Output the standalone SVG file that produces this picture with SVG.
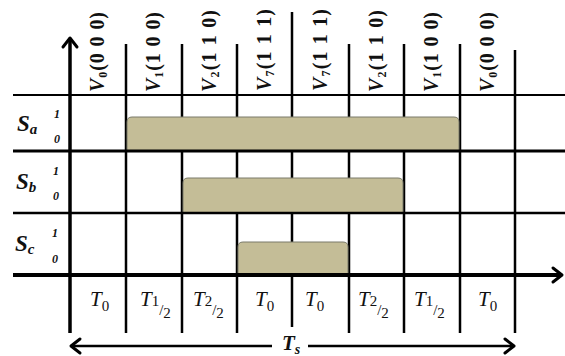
<svg xmlns="http://www.w3.org/2000/svg" width="565" height="356" viewBox="0 0 565 356">
<style>
.g{stroke:#000;fill:none}
.v{stroke:#000;stroke-width:2.5;fill:none}
.bar{fill:#c4bd97;stroke:#7a7a6a;stroke-width:1}
.vl{font-family:"Liberation Serif",serif;font-weight:bold;font-size:20px;fill:#111}
.sl{font-family:"Liberation Serif",serif;font-weight:bold;font-style:italic;fill:#111}
.tl{font-family:"Liberation Serif",serif;font-style:italic;font-size:21px;fill:#111}
.ah{stroke:#000;stroke-width:3;fill:none;stroke-linecap:round;stroke-linejoin:round}
</style>
<rect width="565" height="356" fill="#fff"/>
<g id="grid">
<line class="v" x1="126" y1="44" x2="126" y2="333"/>
<line class="v" x1="182" y1="44" x2="182" y2="333"/>
<line class="v" x1="237" y1="44" x2="237" y2="333"/>
<line class="v" x1="292" y1="12" x2="292" y2="327"/>
<line class="v" x1="349" y1="44" x2="349" y2="333"/>
<line class="v" x1="404" y1="44" x2="404" y2="333"/>
<line class="v" x1="460" y1="44" x2="460" y2="333"/>
<line class="v" x1="515" y1="50" x2="515" y2="333"/>
</g>
<g id="bar-sa"><path class="bar" d="M127,151 V122 Q127,117 132,117 H454 Q459,117 459,122 V151 Z"/></g>
<g id="bar-sb"><path class="bar" d="M183,213 V183 Q183,178 188,178 H398 Q403,178 403,183 V213 Z"/></g>
<g id="bar-sc"><path class="bar" d="M238,275 V247 Q238,242 243,242 H343 Q348,242 348,247 V275 Z"/></g>
<g id="hlines">
<line class="g" x1="13" y1="95" x2="565" y2="95" stroke-width="2"/>
<line class="g" x1="13" y1="151" x2="565" y2="151" stroke-width="3"/>
<line class="g" x1="13" y1="213" x2="565" y2="213" stroke-width="2.5"/>
</g>
<g id="axes">
<line class="g" x1="13" y1="275" x2="561" y2="275" stroke-width="4"/>
<polyline class="ah" points="553,268 562,275 553,282"/>
<line class="g" x1="70" y1="40" x2="70" y2="333" stroke-width="3.5"/>
<polyline class="ah" points="63,47 70,38 77,47"/>
</g>
<g id="ts-arrow">
<line class="g" x1="72" y1="346" x2="272" y2="346" stroke-width="2.5"/>
<polyline class="ah" points="80,339 71,346 80,353"/>
<line class="g" x1="308" y1="346" x2="513" y2="346" stroke-width="2.5"/>
<polyline class="ah" points="505,339 514,346 505,353"/>
<text class="tl" x="282" y="350" font-weight="bold">T<tspan font-size="14" dy="4">s</tspan></text>
</g>
<g id="vector-labels">
<text class="vl" transform="translate(104,92) rotate(-90)" textLength="80" lengthAdjust="spacing"><tspan font-style="italic">V</tspan><tspan font-size="12" dy="3">0</tspan><tspan dy="-3">(0 0 0)</tspan></text>
<text class="vl" transform="translate(160,92) rotate(-90)" textLength="80" lengthAdjust="spacing"><tspan font-style="italic">V</tspan><tspan font-size="12" dy="3">1</tspan><tspan dy="-3">(1 0 0)</tspan></text>
<text class="vl" transform="translate(216,92) rotate(-90)" textLength="82" lengthAdjust="spacing"><tspan font-style="italic">V</tspan><tspan font-size="12" dy="3">2</tspan><tspan dy="-3">(1 1 0)</tspan></text>
<text class="vl" transform="translate(271,91) rotate(-90)" textLength="82" lengthAdjust="spacing"><tspan font-style="italic">V</tspan><tspan font-size="12" dy="3">7</tspan><tspan dy="-3">(1 1 1)</tspan></text>
<text class="vl" transform="translate(327,91) rotate(-90)" textLength="82" lengthAdjust="spacing"><tspan font-style="italic">V</tspan><tspan font-size="12" dy="3">7</tspan><tspan dy="-3">(1 1 1)</tspan></text>
<text class="vl" transform="translate(383,92) rotate(-90)" textLength="82" lengthAdjust="spacing"><tspan font-style="italic">V</tspan><tspan font-size="12" dy="3">2</tspan><tspan dy="-3">(1 1 0)</tspan></text>
<text class="vl" transform="translate(438,92) rotate(-90)" textLength="80" lengthAdjust="spacing"><tspan font-style="italic">V</tspan><tspan font-size="12" dy="3">1</tspan><tspan dy="-3">(1 0 0)</tspan></text>
<text class="vl" transform="translate(494,92) rotate(-90)" textLength="80" lengthAdjust="spacing"><tspan font-style="italic">V</tspan><tspan font-size="12" dy="3">0</tspan><tspan dy="-3">(0 0 0)</tspan></text>
</g>
<g id="signal-labels">
<text class="sl" x="17" y="131" font-size="23">S<tspan font-size="15" dy="3">a</tspan></text>
<text class="sl" x="54" y="118" font-size="12">1</text>
<text class="sl" x="54" y="143" font-size="12">0</text>
<text class="sl" x="16" y="189" font-size="23">S<tspan font-size="15" dy="3">b</tspan></text>
<text class="sl" x="53" y="175" font-size="12">1</text>
<text class="sl" x="53" y="200" font-size="12">0</text>
<text class="sl" x="15" y="251" font-size="23">S<tspan font-size="15" dy="3">c</tspan></text>
<text class="sl" x="52" y="237" font-size="12">1</text>
<text class="sl" x="52" y="263" font-size="12">0</text>
</g>
<g id="time-labels">
<text class="tl" x="90" y="306">T<tspan font-style="normal" font-size="15" dy="5">0</tspan></text>
<text class="tl" x="140" y="306">T<tspan font-style="normal" font-size="15">1</tspan><tspan font-style="normal" font-size="15" dy="9">/</tspan><tspan font-style="normal" font-size="15" dy="3">2</tspan></text>
<text class="tl" x="193" y="306">T<tspan font-style="normal" font-size="15">2</tspan><tspan font-style="normal" font-size="15" dy="9">/</tspan><tspan font-style="normal" font-size="15" dy="3">2</tspan></text>
<text class="tl" x="255" y="306">T<tspan font-style="normal" font-size="15" dy="5">0</tspan></text>
<text class="tl" x="305" y="306">T<tspan font-style="normal" font-size="15" dy="5">0</tspan></text>
<text class="tl" x="358" y="306">T<tspan font-style="normal" font-size="15">2</tspan><tspan font-style="normal" font-size="15" dy="9">/</tspan><tspan font-style="normal" font-size="15" dy="3">2</tspan></text>
<text class="tl" x="414" y="306">T<tspan font-style="normal" font-size="15">1</tspan><tspan font-style="normal" font-size="15" dy="9">/</tspan><tspan font-style="normal" font-size="15" dy="3">2</tspan></text>
<text class="tl" x="478" y="306">T<tspan font-style="normal" font-size="15" dy="5">0</tspan></text>
</g>
</svg>
